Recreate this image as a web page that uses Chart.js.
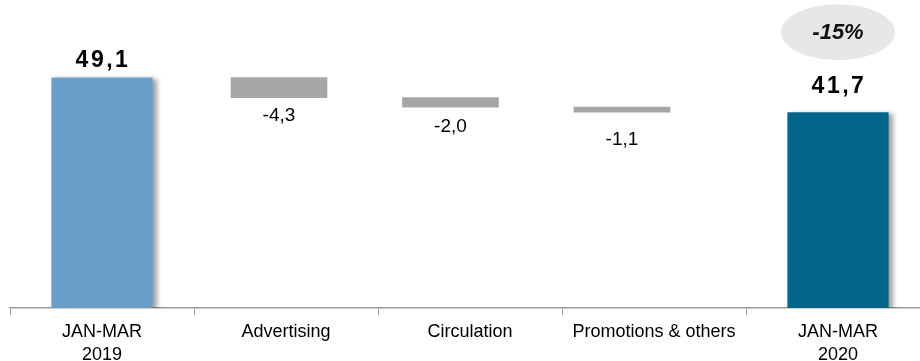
<!DOCTYPE html>
<html>
<head>
<meta charset="utf-8">
<script src="https://cdn.jsdelivr.net/npm/chart.js@4/dist/chart.umd.min.js"></script>
<style>
  html, body { margin: 0; padding: 0; background: #fff; overflow: hidden; }
  #wrap { position: relative; width: 940px; height: 373px; }
</style>
</head>
<body>
<div id="wrap"><canvas id="bridge"></canvas></div>
<script>
  'use strict';

  var categories = [['JAN-MAR', '2019'], 'Advertising', 'Circulation', 'Promotions & others', ['JAN-MAR', '2020']];
  var startValue = 49.1;
  var changeValues = [-4.3, -2.0, -1.1];
  var endValue = 41.7;

  var FONT = '"Liberation Sans", Arial, sans-serif';

  function fmt(v) {
    return v.toFixed(1).replace('.', ',');
  }

  // floating segments for the middle steps, walking down from the start total
  var steps = [];
  var running = startValue;
  changeValues.forEach(function (d, i) {
    var next = running + d;
    steps.push({ x: i + 1, y: [next, running], delta: d });
    running = next;
  });

  var totals = [startValue, null, null, null, endValue];
  var pctChange = Math.round((endValue - startValue) / startValue * 100);

  var shadowPlugin = {
    id: 'barShadow',
    beforeDatasetDraw: function (chart, args) {
      if (args.index !== 0) return;
      var ctx = chart.ctx;
      ctx.save();
      ctx.shadowColor = 'rgba(0,0,0,0.38)';
      ctx.shadowBlur = 5;
      ctx.shadowOffsetX = 4;
      ctx.shadowOffsetY = 2;
    },
    afterDatasetDraw: function (chart, args) {
      if (args.index === 0) chart.ctx.restore();
    }
  };

  var labelPlugin = {
    id: 'bridgeLabels',
    afterDatasetsDraw: function (chart, args, opts) {
      var ctx = chart.ctx;
      ctx.save();
      ctx.fillStyle = '#000';
      ctx.textAlign = 'center';

      // totals above bars
      var totalMeta = chart.getDatasetMeta(0);
      ctx.font = 'bold 23px ' + FONT;
      ctx.letterSpacing = '2.5px';
      ctx.textBaseline = 'bottom';
      totalMeta.data.forEach(function (bar, i) {
        if (totals[i] == null) return;
        ctx.fillText(fmt(totals[i]), bar.x + 1, bar.y - opts.totalGap[i]);
      });

      // changes below the floating segments
      var stepMeta = chart.getDatasetMeta(1);
      ctx.font = '19px ' + FONT;
      ctx.letterSpacing = '0px';
      ctx.textBaseline = 'top';
      stepMeta.data.forEach(function (bar, i) {
        ctx.fillText(fmt(steps[i].delta), bar.x, bar.base + opts.stepGap[i]);
      });

      // percentage bubble over the closing bar
      var last = totalMeta.data[totals.length - 1];
      var cy = last.y - 80;
      ctx.fillStyle = '#e7e7e7';
      ctx.beginPath();
      ctx.ellipse(last.x, cy, 57, 28, 0, 0, Math.PI * 2);
      ctx.fill();
      ctx.fillStyle = '#111';
      ctx.font = 'italic bold 22px ' + FONT;
      ctx.textBaseline = 'middle';
      ctx.fillText(pctChange + '%', last.x, cy + 1);
      ctx.restore();
    }
  };

  new Chart(document.getElementById('bridge').getContext('2d'), {
    type: 'bar',
    data: {
      labels: categories,
      datasets: [
        {
          label: 'Total',
          data: totals,
          xAxisID: 'x',
          grouped: false,
          backgroundColor: ['#6a9fca', null, null, null, '#05668b'],
          barPercentage: 0.55,
          categoryPercentage: 1
        },
        {
          label: 'Change',
          data: steps,
          xAxisID: 'xStep',
          grouped: false,
          backgroundColor: '#a6a6a6',
          barThickness: 96
        }
      ]
    },
    plugins: [shadowPlugin, labelPlugin],
    options: {
      responsive: true,
      maintainAspectRatio: false,
      animation: false,
      layout: { padding: { left: 10, right: 10, top: 0, bottom: 1 } },
      scales: {
        x: {
          type: 'category',
          offset: true,
          grid: { display: true, drawOnChartArea: false, offset: true, tickLength: 7, color: '#9a9a9a', lineWidth: 1 },
          border: { display: true, color: '#9a9a9a', width: 1.5 },
          ticks: { color: '#000', padding: 6, maxRotation: 0, autoSkip: false, font: { family: FONT, size: 18, lineHeight: 1.25 } }
        },
        xStep: {
          type: 'linear',
          display: false,
          offset: false,
          min: -0.5685,
          max: 4.796
        },
        y: {
          display: false,
          min: 0,
          max: 65.6
        }
      },
      plugins: {
        legend: { display: false },
        tooltip: { enabled: false },
        bridgeLabels: {
          totalGap: [5, null, null, null, 14],
          stepGap: [9, 10, 18]
        }
      }
    }
  });
</script>
</body>
</html>
